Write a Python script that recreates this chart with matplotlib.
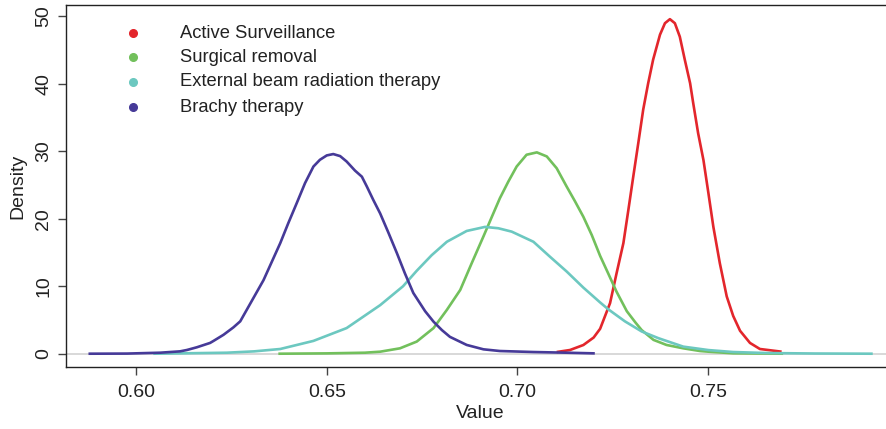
import matplotlib
matplotlib.use("Agg")
import matplotlib.pyplot as plt

plt.rcParams['font.family'] = ['Liberation Sans', 'DejaVu Sans']

# ---- data ----
labels = ["Active Surveillance", "Surgical removal",
          "External beam radiation therapy", "Brachy therapy"]
colors = ["#E3262C", "#72C05C", "#6CC8C0", "#463A98"]

active_x = [0.7103, 0.7138, 0.7173, 0.7200, 0.7217, 0.7243, 0.7260, 0.7278,
            0.7291, 0.7304, 0.7317, 0.7330, 0.7343, 0.7356, 0.7374, 0.7387,
            0.7400, 0.7413, 0.7426, 0.7439, 0.7453, 0.7461, 0.7474, 0.7488,
            0.7501, 0.7514, 0.7531, 0.7549, 0.7566, 0.7584, 0.7610, 0.7636,
            0.7693]
active_y = [0.25, 0.55, 1.29, 2.4, 3.7, 7.5, 11.9, 16.4,
            21.3, 26.3, 31.2, 36.2, 40.1, 43.6, 47.3, 49.0,
            49.6, 49.0, 47.0, 43.6, 40.1, 37.2, 32.7, 28.7,
            23.8, 18.8, 13.4, 8.5, 5.6, 3.4, 1.6, 0.7,
            0.3]

surgical_x = [0.6373, 0.6500, 0.6600, 0.6640, 0.6692, 0.6736, 0.6780, 0.6815,
              0.6850, 0.6880, 0.6911, 0.6933, 0.6954, 0.6976, 0.6998, 0.7024,
              0.7051, 0.7077, 0.7103, 0.7129, 0.7151, 0.7173, 0.7195, 0.7217,
              0.7239, 0.7260, 0.7287, 0.7310, 0.7326, 0.7357, 0.7391, 0.7435,
              0.7479, 0.7501, 0.7566, 0.7697]
surgical_y = [0.0, 0.05, 0.15, 0.3, 0.8, 1.8, 3.8, 6.5,
              9.45, 13.4, 17.4, 20.3, 23.05, 25.5, 27.75, 29.5,
              29.85, 29.25, 27.5, 24.8, 22.6, 20.3, 17.6, 14.5,
              11.8, 9.2, 6.3, 4.6, 3.5, 2.05, 1.3, 0.8,
              0.4, 0.3, 0.06, 0.0]

external_x = [0.6045, 0.6115, 0.6238, 0.6310, 0.6378, 0.6465, 0.6552, 0.6640,
              0.6700, 0.6736, 0.6775, 0.6815, 0.6867, 0.6915, 0.6950, 0.6985,
              0.7042, 0.7085, 0.7129, 0.7173, 0.7217, 0.7238, 0.7282, 0.7326,
              0.7370, 0.7435, 0.7501, 0.7566, 0.7654, 0.7780, 0.7932]
external_y = [0.0, 0.05, 0.15, 0.35, 0.7, 1.9, 3.8, 7.2,
              10.0, 12.3, 14.6, 16.6, 18.2, 18.8, 18.6, 18.1,
              16.6, 14.4, 12.2, 9.8, 7.6, 6.6, 4.8, 3.3,
              2.3, 1.05, 0.54, 0.25, 0.1, 0.03, 0.0]

brachy_x = [0.5875, 0.5976, 0.6063, 0.6115, 0.6133, 0.6159, 0.6194, 0.6203,
            0.6229, 0.6255, 0.6273, 0.6290, 0.6312, 0.6334, 0.6356, 0.6378,
            0.6399, 0.6421, 0.6443, 0.6465, 0.6482, 0.6500, 0.6517, 0.6535,
            0.6552, 0.6574, 0.6592, 0.6605, 0.6622, 0.6640, 0.6662, 0.6684,
            0.6705, 0.6727, 0.6758, 0.6780, 0.6802, 0.6823, 0.6867, 0.6911,
            0.6954, 0.7042, 0.7129, 0.7203]
brachy_y = [0.0, 0.02, 0.15, 0.35, 0.55, 0.95, 1.6, 1.9,
            2.8, 3.9, 4.8, 6.5, 8.7, 10.9, 13.65, 16.4,
            19.35, 22.3, 25.3, 27.75, 28.75, 29.4, 29.6, 29.3,
            28.5, 27.15, 26.25, 24.8, 22.8, 20.8, 17.9, 14.9,
            11.9, 9.0, 6.3, 4.75, 3.5, 2.5, 1.3, 0.65,
            0.4, 0.25, 0.15, 0.05]

xticks = [0.60, 0.65, 0.70, 0.75]
xtick_labels = ["0.60", "0.65", "0.70", "0.75"]
yticks = [0, 10, 20, 30, 40, 50]

# ---- figure ----
fig = plt.figure(figsize=(8.86, 4.29), dpi=100)
ax = fig.add_axes([66/886, 1 - 367/429, 1 - 66/886 + 0.01, (367 - 5)/429])

ax.axhline(0, color="#D2D2D2", lw=1.2, zorder=1)

series = [(active_x, active_y), (surgical_x, surgical_y),
          (external_x, external_y), (brachy_x, brachy_y)]
order = [2, 1, 0, 3]
for i in order:
    xs, ys = series[i]
    ax.plot(xs, ys, color=colors[i], lw=1.9, solid_joinstyle="round",
            solid_capstyle="butt", zorder=2 + i)

ax.set_xlim(0.5816, 0.60 + (886 + 9 - 136) / 3814)
ax.set_ylim(-1.97, 51.7)

ax.set_xticks(xticks)
ax.set_xticklabels(xtick_labels)
ax.set_yticks(yticks)
ax.set_yticklabels([str(v) for v in yticks], rotation=90, va="center")

for s in ["left", "bottom", "top"]:
    ax.spines[s].set_color("#222222")
    ax.spines[s].set_linewidth(1.0)
ax.spines["right"].set_visible(False)

ax.tick_params(axis="both", length=6, width=1.0, color="#444444",
               labelsize=14, labelcolor="#222222")
ax.tick_params(axis="x", pad=6)
ax.tick_params(axis="y", pad=4)

ax.set_xlabel("Value", fontsize=14, color="#222222", labelpad=3)
ax.set_ylabel("Density", fontsize=14, color="#222222", labelpad=6)

# legend (dots + labels) placed in pixel positions of the figure
leg_rows = [33, 57, 82, 107]
for i, lab in enumerate(labels):
    yfig = 1 - leg_rows[i] / 429
    fig.text(180 / 886, yfig, lab, fontsize=13.2, color="#222222",
             ha="left", va="center")
    fig.add_artist(plt.Line2D([133 / 886], [yfig], marker="o", ms=5.5,
                              color=colors[i], linestyle="none",
                              transform=fig.transFigure))

fig.savefig("out.png", dpi=100)
